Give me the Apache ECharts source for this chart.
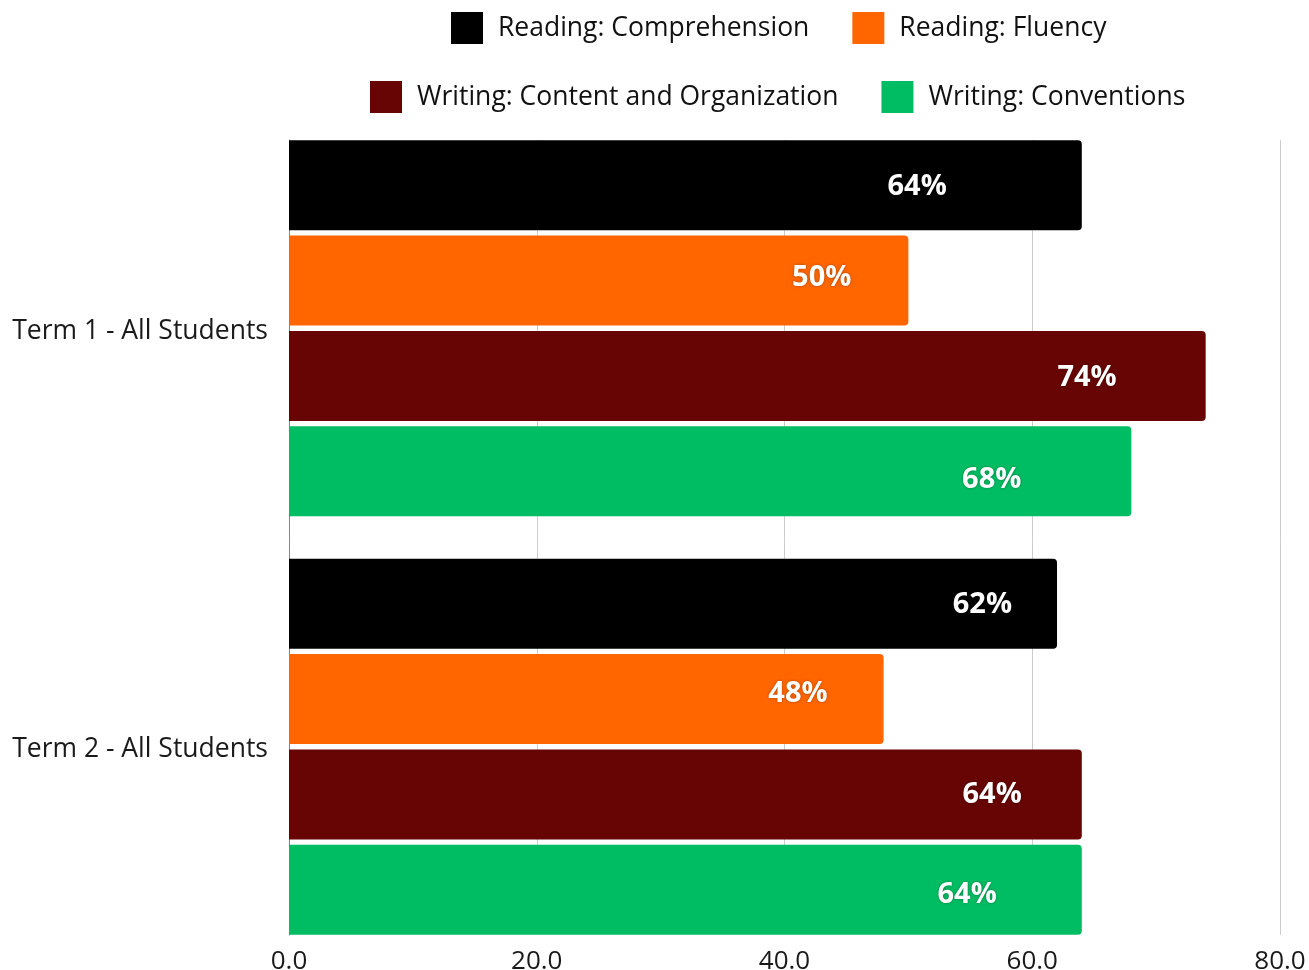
<!DOCTYPE html>
<html>
<head>
<meta charset="utf-8">
<script src="https://cdn.jsdelivr.net/npm/echarts@6/dist/echarts.min.js"></script>
<style>
  html, body { margin: 0; padding: 0; background: #fff; }
  #chart { width: 1309px; height: 970px; }
</style>
</head>
<body>
<div id="chart"></div>
<script>
const terms = ['Term 1 - All Students', 'Term 2 - All Students'];
const seriesNames = [
  'Reading: Comprehension',
  'Reading: Fluency',
  'Writing: Content and Organization',
  'Writing: Conventions'
];
const comprehension = [64, 62];
const fluency = [50, 48];
const content = [74, 64];
const conventions = [68, 64];
const xTicks = [0, 20, 40, 60, 80];

const colors = ['#000000', '#ff6600', '#670505', '#00bd63'];
// label placement tweaks (styling only): inset from bar end, vertical nudge
const labelInset = [[135, 45], [57, 56], [89, 60], [110, 85]];
const labelNudge = [[2, 1], [-3, -5], [2, 0], [8, 5]];

const chart = echarts.init(document.getElementById('chart'));
const font = 'Open Sans';

const makeSeries = (name, values, i) => ({
  name: name,
  type: 'bar',
  xAxisIndex: 0,
  yAxisIndex: 0,
  barWidth: 90,
  barGap: '6%',
  itemStyle: { color: colors[i], borderRadius: [0, 4, 4, 0] },
  label: {
    show: true,
    position: 'insideRight',
    formatter: '{c}%',
    color: '#fff',
    fontFamily: font,
    fontWeight: 'bold',
    fontSize: 29,
    textShadowColor: 'rgba(0,0,0,0.35)',
    textShadowBlur: 3
  },
  data: values.map((v, j) => ({
    value: v,
    label: { distance: labelInset[i][j], offset: [0, labelNudge[i][j]] }
  }))
});

const legendBase = {
  itemWidth: 32,
  itemHeight: 32,
  itemGap: 43,
  padding: 0,
  icon: 'rect',
  selectedMode: false,
  textStyle: { fontFamily: font, fontSize: 26.5, color: '#111', padding: [0, 0, 0, 10] }
};

chart.setOption({
  animation: false,
  legend: [
    Object.assign({}, legendBase, { left: 451, top: 12, data: seriesNames.slice(0, 2) }),
    Object.assign({}, legendBase, { left: 370, top: 81, data: seriesNames.slice(2) })
  ],
  grid: [
    { left: 289, right: 29, top: 119, bottom: 14, outerBoundsMode: 'none' },
    { left: 289, right: 29, top: 140, bottom: 35, outerBoundsMode: 'none' }
  ],
  xAxis: [
    {
      gridIndex: 0, type: 'value', min: 0, max: 80, interval: 20,
      show: false
    },
    {
      gridIndex: 1, type: 'value', min: xTicks[0], max: xTicks[xTicks.length - 1], interval: 20,
      axisLine: { show: false },
      axisTick: { show: false },
      splitLine: { lineStyle: { color: '#cccccc', width: 1 } },
      axisLabel: {
        fontFamily: font, fontSize: 26, color: '#1a1a1a', margin: 14,
        formatter: (v) => v.toFixed(1)
      }
    }
  ],
  yAxis: [
    {
      gridIndex: 0, type: 'category', data: terms, inverse: true,
      axisLine: { show: false },
      axisTick: { show: false },
      axisLabel: {
        margin: 21,
        formatter: (v) => '{t|' + v + '}',
        rich: { t: { fontFamily: font, fontSize: 26.5, color: '#1a1a1a', padding: [6, 0, 0, 0] } }
      }
    },
    {
      gridIndex: 1, type: 'category', data: [],
      axisLine: { show: true, lineStyle: { color: '#888888', width: 1 } },
      axisTick: { show: false },
      axisLabel: { show: false }
    }
  ],
  series: [
    makeSeries(seriesNames[0], comprehension, 0),
    makeSeries(seriesNames[1], fluency, 1),
    makeSeries(seriesNames[2], content, 2),
    makeSeries(seriesNames[3], conventions, 3)
  ]
});
</script>
</body>
</html>
